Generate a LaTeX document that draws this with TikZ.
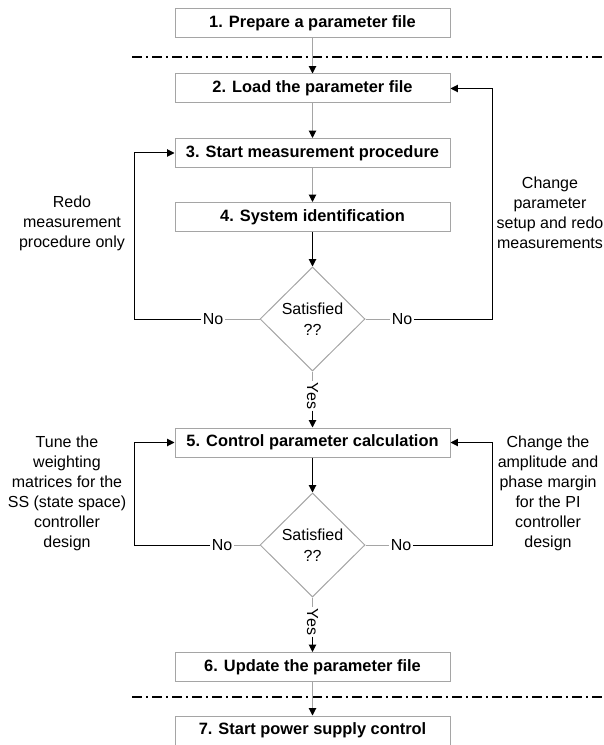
\documentclass[tikz,border=0pt]{standalone}
\usepackage{fontspec}
\setmainfont{Liberation Sans}
\usetikzlibrary{shapes.geometric,arrows.meta}

\definecolor{boxgray}{RGB}{165,165,165}
\tikzset{
	stepbox/.style={draw=boxgray, line width=0.75pt, minimum width=206.25pt, minimum height=21.75pt, inner sep=0pt, font=\fontsize{12.3pt}{15pt}\selectfont\bfseries},
	decision/.style={diamond, draw=boxgray, line width=0.75pt, minimum width=78.75pt, minimum height=78pt, inner sep=0pt, align=center, font=\fontsize{12pt}{15.75pt}\selectfont},
	note/.style={align=center, inner sep=0pt, font=\fontsize{12pt}{15pt}\selectfont},
	answer/.style={inner sep=1pt, font=\fontsize{12pt}{15pt}\selectfont},
	flow/.style={line width=0.75pt, -{Triangle[length=5.5pt,width=5.5pt,color=black]}},
	plain/.style={line width=0.75pt},
	separator/.style={line width=1.5pt, dash pattern=on 7.5pt off 3pt on 1.5pt off 3pt},
}

\begin{document}
\begin{tikzpicture}[x=0.75pt,y=0.75pt,yscale=-1,xscale=1]
	\useasboundingbox (0,0) rectangle (603,745);
	
	%Steps
	\node[stepbox] (prepare) at (312.5,23.5) {1. Prepare a parameter file};
	\node[stepbox] (load) at (312.5,88.5) {2. Load the parameter file};
	\node[stepbox] (measure) at (312.5,153) {3. Start measurement procedure};
	\node[stepbox] (ident) at (312.5,217) {4. System identification};
	\node[stepbox] (calc) at (312.5,442.5) {5. Control parameter calculation};
	\node[stepbox] (update) at (312.5,667) {6. Update the parameter file};
	\node[stepbox] (start) at (312.5,730.5) {7. Start power supply control};
	
	%Decisions
	\node[decision] (checkA) at (312.5,319) {Satisfied\\??};
	\node[decision] (checkB) at (312.5,545) {Satisfied\\??};
	
	%Answers
	\node[answer] (noAl) at (213,319) {No};
	\node[answer] (noAr) at (402,319) {No};
	\node[answer, rotate=-90] (yesA) at (312.5,396) {Yes};
	\node[answer] (noBl) at (222,545) {No};
	\node[answer] (noBr) at (401,545) {No};
	\node[answer, rotate=-90] (yesB) at (312.5,622) {Yes};
	
	%Notes
	\node[note] (redo) at (72,223) {Redo\\measurement\\procedure only};
	\node[note] (change) at (550,213) {Change\\parameter\\setup and redo\\measurements};
	\node[note] (tune) at (67,493.5) {Tune the\\weighting\\matrices for the\\SS (state space)\\controller\\design};
	\node[note] (margin) at (548,493.5) {Change the\\amplitude and\\phase margin\\for the PI\\controller\\design};
	
	%Loop corners
	\coordinate (loopA) at (134,153);
	\coordinate (loopB) at (492,88.5);
	\coordinate (loopC) at (134,442.5);
	\coordinate (loopD) at (492,442.5);
	
	%Separators
	\coordinate (cutA1) at (132,57);
	\coordinate (cutA2) at (603,57);
	\coordinate (cutB1) at (132,697);
	\coordinate (cutB2) at (603,697);
	\draw[separator] (cutA1) -- (cutA2);
	\draw[separator] (cutB1) -- (cutB2);
	
	%Main flow
	\draw[flow, draw=boxgray] (prepare) -- (load);
	\draw[flow, draw=boxgray] (load) -- (measure);
	\draw[flow, draw=boxgray] (measure) -- (ident);
	\draw[flow] (ident) -- (checkA);
	\draw[plain, draw=boxgray] (checkA.south) -- (yesA.west);
	\draw[flow] (yesA.east) -- (calc);
	\draw[flow] (calc) -- (checkB);
	\draw[plain, draw=boxgray] (checkB.south) -- (yesB.west);
	\draw[flow] (yesB.east) -- (update);
	\draw[flow, draw=boxgray] (update) -- (start);
	
	%Loops
	\draw[plain, draw=boxgray] (checkA.west) -- (noAl.east);
	\draw[flow] (noAl.west) -| (loopA) -- (measure.west);
	\draw[plain, draw=boxgray] (checkA.east) -- (noAr.west);
	\draw[flow] (noAr.east) -| (loopB) -- (load.east);
	\draw[plain, draw=boxgray] (checkB.west) -- (noBl.east);
	\draw[flow] (noBl.west) -| (loopC) -- (calc.west);
	\draw[plain, draw=boxgray] (checkB.east) -- (noBr.west);
	\draw[flow] (noBr.east) -| (loopD) -- (calc.east);
	
\end{tikzpicture}
\end{document}
